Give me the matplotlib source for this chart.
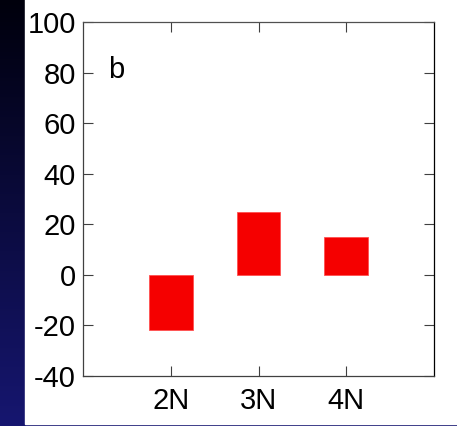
import numpy as np
import matplotlib
matplotlib.use('agg')
import matplotlib.pyplot as plt
from matplotlib.patches import Rectangle

categories = ['2N', '3N', '4N']
values = [-22, 25, 15]
yticks = [-40, -20, 0, 20, 40, 60, 80, 100]
panel_label = 'b'

plt.rcParams['font.family'] = ['Liberation Sans', 'DejaVu Sans']
plt.rcParams['axes.unicode_minus'] = False

fig = plt.figure(figsize=(4.57, 4.26), dpi=100)

# dark slide background, vertical gradient
bg = fig.add_axes([0, 0, 1, 1])
bg.set_axis_off()
grad = np.linspace(0, 1, 256).reshape(-1, 1)
top = np.array([0, 0, 12]) / 255.0
bot = np.array([22, 22, 112]) / 255.0
img = top + (bot - top) * grad[:, :, None]
bg.imshow(img, aspect='auto', extent=[0, 1, 0, 1], origin='upper')
bg.add_patch(Rectangle((25 / 457, 2.5 / 426), 1, 1, color='white', transform=bg.transAxes))
bg.set_xlim(0, 1)
bg.set_ylim(0, 1)

ax = fig.add_axes([83 / 457, 50 / 426, 351 / 457, 354 / 426])
x = np.arange(1, len(categories) + 1)
ax.bar(x, values, width=0.5, color='#f50000', edgecolor='#ff5050', linewidth=0.6)

ax.set_xlim(0, 4)
ax.set_ylim(-40, 100)
ax.set_xticks(x)
ax.set_xticklabels(categories)
ax.set_yticks(yticks)
ax.tick_params(direction='in', length=7, width=0.8, labelsize=21, pad=5,
               top=True, right=True, colors='#404040', labelcolor='black')
ax.tick_params(axis='x', pad=8)
for s in ax.spines.values():
    s.set_linewidth(0.9)
ax.spines['left'].set_color('#404040')
ax.spines['bottom'].set_color('#404040')
ax.spines['top'].set_color('#505050')
ax.spines['right'].set_color('black')

ax.text(0.29, 78, panel_label, fontsize=21, ha='left', va='baseline')

plt.savefig('out.png', dpi=100)
plt.close()
